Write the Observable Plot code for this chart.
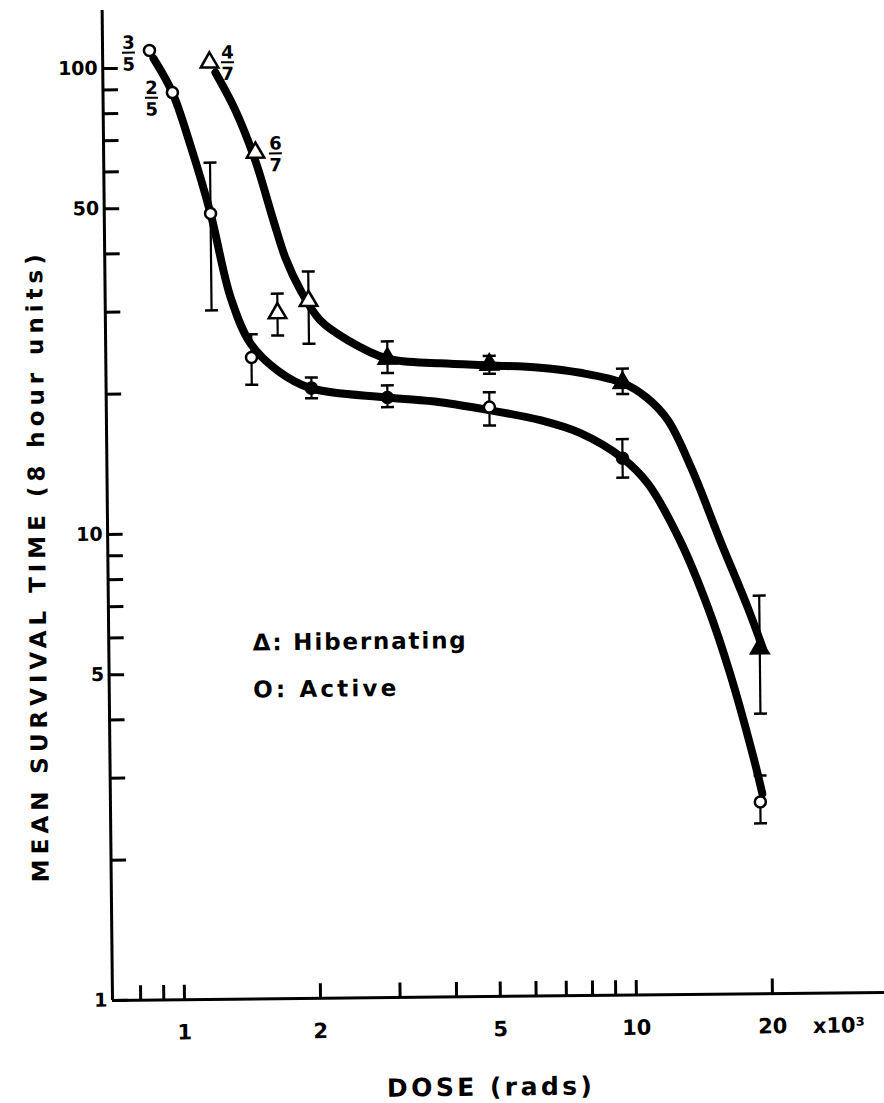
<!DOCTYPE html>
<html><head><meta charset="utf-8">
<script src="https://cdn.jsdelivr.net/npm/d3@7"></script>
<script src="https://cdn.jsdelivr.net/npm/@observablehq/plot@0.6"></script>
<style>html,body{margin:0;padding:0;background:#fff;} #chart svg{display:block;}</style>
</head><body><div id="chart"></div>
<script>
// ---- data (dose in 10^3 rads, mean survival time in 8-hour units) ----
const activeDose = [0.880, 0.987, 1.191, 1.456, 1.973, 2.904, 4.88, 9.59, 19.0];
const activeTime = [109.1, 88.5, 48.6, 23.8, 20.4, 19.4, 18.4, 14.2, 2.58];
const activeLo   = [null, null, 30.1, 20.8, 19.4, 18.5, 16.8, 12.9, 2.32];
const activeHi   = [null, null, 62.5, 26.7, 21.5, 20.6, 19.8, 15.6, 2.94];

const hibDose = [1.194, 1.502, 1.666, 1.953, 2.91, 4.89, 9.63, 19.1];
const hibTime = [102.5, 65.5, 29.6, 31.4, 23.5, 22.7, 20.6, 5.51];
const hibLo   = [null, null, 26.5, 25.4, 21.9, 21.7, 19.5, 3.99];
const hibHi   = [null, null, 32.6, 36.3, 25.6, 23.7, 22.1, 7.15];

// fitted (hand-drawn) curves
const activeCurveDose = [0.898, 0.987, 1.079, 1.191, 1.313, 1.45, 1.661, 1.963, 2.904, 3.80, 4.91, 6.32, 7.75, 9.59, 10.9, 12.8, 14.7, 16.4, 18.4, 19.2];
const activeCurveTime = [104.9, 88.5, 68.1, 48.6, 32.1, 25.5, 22.3, 20.4, 19.4, 18.9, 18.1, 17.2, 16.1, 14.2, 12.5, 9.42, 6.76, 4.87, 3.21, 2.69];
const hibCurveDose = [1.23, 1.36, 1.50, 1.64, 1.741, 1.876, 2.07, 2.38, 2.91, 3.81, 4.92, 6.33, 7.77, 9.63, 10.9, 12.1, 13.6, 15.7, 18.0, 19.4];
const hibCurveTime = [97.5, 80.7, 63.0, 46.8, 38.8, 33.1, 28.5, 25.8, 23.5, 22.9, 22.6, 22.3, 21.7, 20.6, 19.1, 17.1, 13.5, 9.41, 6.75, 5.51];

// fraction annotations (survivors) on the first points
const fracNum = ["3", "2", "4", "6"];
const fracDen = ["5", "5", "7", "7"];
const fracSeries = ["active", "active", "hib", "hib"];
const fracIndex = [0, 1, 0, 1];

// axes
const xTicks = [0.8, 0.9, 1, 2, 3, 4, 5, 6, 7, 8, 9, 10, 20];
const xTickLabels = [1, 2, 5, 10, 20];
const yTicks = [1, 2, 3, 4, 5, 6, 7, 8, 9, 10, 20, 30, 40, 50, 60, 70, 80, 90, 100];
const yTickLabels = [1, 5, 10, 50, 100];
const xDomain = [0.693, 35.4];
const yDomain = [1, 133.2];

const yTitle = "MEAN SURVIVAL TIME (8 hour units)";
const xTitle = "DOSE (rads)";
const xUnit = "x10³";
const legendLabels = ["Δ: Hibernating", "O: Active"];

// ---- build ----
const F = "'DejaVu Sans', Verdana, sans-serif";
const hSeg = {draw(ctx, size) { const r = Math.sqrt(size / Math.PI); ctx.moveTo(-r, 0); ctx.lineTo(r, 0); }};
const vTick = {draw(ctx, size) { const r = Math.sqrt(size / Math.PI); ctx.moveTo(0, 0); ctx.lineTo(0, -r); }};
const hTick = {draw(ctx, size) { const r = Math.sqrt(size / Math.PI); ctx.moveTo(0, 0); ctx.lineTo(r, 0); }};

// markers that the ink of the curve fills in (drawn solid) vs. those left open
const solidActive = new Set([4, 5, 7]);
const solidHib = new Set([4, 5, 6, 7]);

const act = activeDose.map((d, i) => ({dose: d, time: activeTime[i], lo: activeLo[i], hi: activeHi[i], solid: solidActive.has(i)}));
const hib = hibDose.map((d, i) => ({dose: d, time: hibTime[i], lo: hibLo[i], hi: hibHi[i], solid: solidHib.has(i)}));
const errs = [...act, ...hib].filter(d => d.lo != null);
const actCurve = activeCurveDose.map((d, i) => ({dose: d, time: activeCurveTime[i]}));
const hibCurve = hibCurveDose.map((d, i) => ({dose: d, time: hibCurveTime[i]}));
const fracs = fracNum.map((n, i) => {
  const p = (fracSeries[i] === "active" ? act : hib)[fracIndex[i]];
  return {dose: p.dose, time: p.time, text: n + "\n" + fracDen[i]};
});
const fracDx = [-21, -21, 18, 20];
const fracDy = [2, 5, 0, 1];

const marks = [
  // axis lines and ticks
  Plot.ruleX([xDomain[0]], {stroke: "black", strokeWidth: 3}),
  Plot.ruleY([yDomain[0]], {stroke: "black", strokeWidth: 3}),
  Plot.dot(xTicks, {x: d => d, y: () => yDomain[0], symbol: vTick, r: 15, stroke: "black", strokeWidth: 3}),
  Plot.dot(yTicks, {x: () => xDomain[0], y: d => d, symbol: hTick, r: 15, stroke: "black", strokeWidth: 3}),
  Plot.text(xTickLabels, {x: d => d, y: () => yDomain[0], text: d => String(d), dy: 33, fontSize: 21, fontWeight: "bold", fill: "black", lineAnchor: "middle"}),
  Plot.text(yTickLabels, {x: () => xDomain[0], y: d => d, text: d => String(d), dx: -5, textAnchor: "end", fontSize: 19, fontWeight: "bold", fill: "black", lineAnchor: "middle"}),
  Plot.text([xUnit], {frameAnchor: "bottom-right", text: d => d, dx: -72, dy: 33, textAnchor: "start", lineAnchor: "middle", fontSize: 21, fontWeight: "bold", fill: "black"}),
  Plot.text([yTitle], {frameAnchor: "left", text: d => d, rotate: -90, dx: -70, dy: 62, textAnchor: "middle", lineAnchor: "middle", fontSize: 23, fontWeight: "bold", fill: "black"}),
  Plot.text([xTitle], {frameAnchor: "bottom", text: d => d, dx: -10, dy: 91, textAnchor: "middle", lineAnchor: "middle", fontSize: 25, fontWeight: "bold", fill: "black"}),
  Plot.text([legendLabels[0]], {frameAnchor: "top-left", text: d => d, dx: 144, dy: 634, textAnchor: "start", lineAnchor: "middle", fontSize: 23, fontWeight: "bold", fill: "black"}),
  Plot.text([legendLabels[1]], {frameAnchor: "top-left", text: d => d, dx: 144, dy: 681, textAnchor: "start", lineAnchor: "middle", fontSize: 23, fontWeight: "bold", fill: "black"}),
  // error bars
  Plot.ruleX(errs, {x: "dose", y1: "lo", y2: "hi", stroke: "black", strokeWidth: 2.2}),
  Plot.dot(errs, {x: "dose", y: "lo", symbol: hSeg, r: 6.5, stroke: "black", strokeWidth: 2.5}),
  Plot.dot(errs, {x: "dose", y: "hi", symbol: hSeg, r: 6.5, stroke: "black", strokeWidth: 2.5}),
  // curves
  Plot.line(actCurve, {x: "dose", y: "time", curve: "catmull-rom", stroke: "black", strokeWidth: 8, strokeLinecap: "round"}),
  Plot.line(hibCurve, {x: "dose", y: "time", curve: "catmull-rom", stroke: "black", strokeWidth: 8, strokeLinecap: "round"}),
  // markers
  Plot.dot(act, {x: "dose", y: "time", r: 5.5, fill: d => d.solid ? "black" : "white", stroke: "black", strokeWidth: 2.5}),
  Plot.dot(hib, {x: "dose", y: "time", symbol: "triangle", r: 6.5, fill: d => d.solid ? "black" : "white", stroke: "black", strokeWidth: 2.5}),
];
fracs.forEach((f, i) => {
  marks.push(Plot.text([f], {x: "dose", y: "time", text: "text", dx: fracDx[i], dy: fracDy[i], fontSize: 18, fontWeight: "bold", lineHeight: 1.2, fill: "black", textAnchor: "middle", lineAnchor: "middle"}));
  marks.push(Plot.dot([f], {x: "dose", y: "time", symbol: hSeg, r: 6.5, dx: fracDx[i], dy: fracDy[i], stroke: "black", strokeWidth: 2}));
});

const chart = Plot.plot({
  width: 884, height: 1103,
  marginLeft: 112, marginRight: 0, marginTop: 10, marginBottom: 103,
  x: {type: "log", domain: xDomain, axis: null},
  y: {type: "log", domain: yDomain, axis: null},
  color: {type: "identity"},
  style: {fontFamily: F, background: "#fff", color: "#000", overflow: "visible"},
  marks
});
// fit annotation text lengths to the reference
const lengths = {[yTitle]: 628, [xTitle]: 205, [legendLabels[0]]: 213, [legendLabels[1]]: 143};
chart.querySelectorAll("text").forEach(t => {
  const L = lengths[t.textContent];
  if (L) { t.setAttribute("textLength", L); t.setAttribute("lengthAdjust", "spacing"); }
});
chart.style.transform = "rotate(-0.6deg)";
chart.style.transformOrigin = "112px 1000px";
document.getElementById("chart").appendChild(chart);
</script>
</body></html>
